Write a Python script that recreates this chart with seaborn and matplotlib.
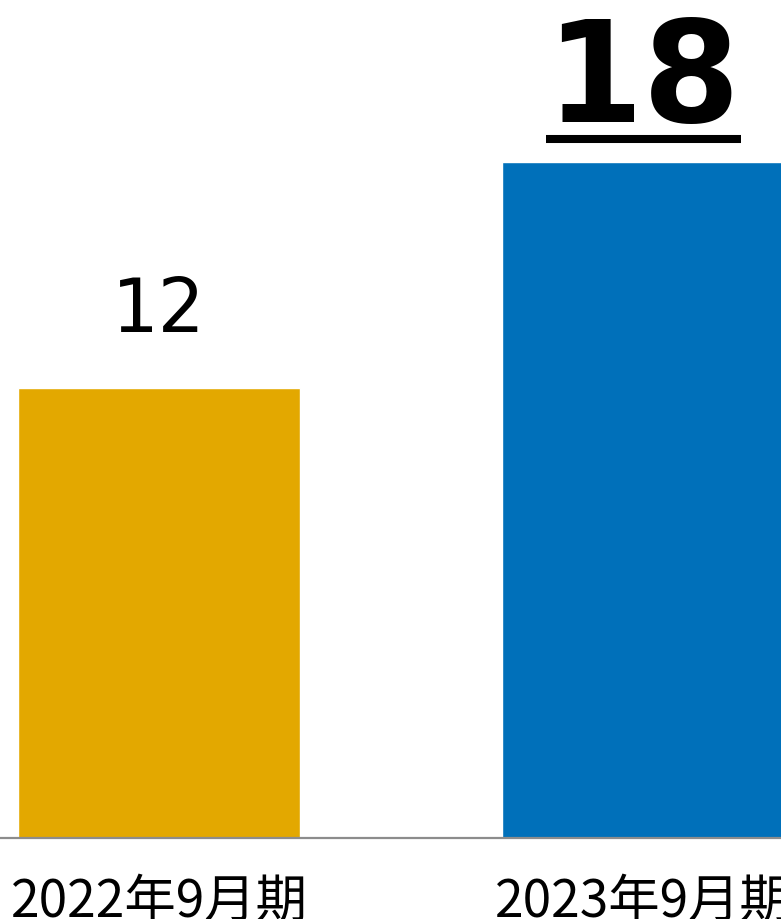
import matplotlib
matplotlib.use("Agg")
import matplotlib.pyplot as plt
import seaborn as sns
import pandas as pd

periods = ["2022年9月期", "2023年9月期"]
values = [12, 18]
colors = ["#E3A800", "#0070BA"]

sns.set_theme(style="white")
plt.rcParams["font.family"] = ["DejaVu Sans", "Noto Sans CJK JP"]

df = pd.DataFrame({"period": periods, "value": values})

fig = plt.figure(figsize=(7.81, 9.19), dpi=100)
ax = fig.add_axes([0, 81 / 919, 1, 838 / 919])

sns.barplot(data=df, x="period", y="value", hue="period", palette=colors,
            width=0.583, legend=False, ax=ax, saturation=1)

ax.set_xlim(-0.3285, 1.285)
ax.set_ylim(0, 22.33)
ax.set_xlabel("")
ax.set_ylabel("")
ax.set_yticks([])
for s in ["left", "right", "top"]:
    ax.spines[s].set_visible(False)
ax.spines["bottom"].set_color("#8c8c8c")
ax.spines["bottom"].set_linewidth(1.6)
ax.tick_params(axis="x", length=0, pad=27)
ax.set_xticks([0, 1])
ax.set_xticklabels(periods, fontsize=37, family=["Noto Sans CJK JP"], color="#000000")

# value labels: previous period plain, current period bold and underlined
ax.annotate(str(values[0]), (0, values[0]), xytext=(0, 40.3), textcoords="offset points",
            ha="center", va="baseline", fontsize=53, color="#000000")
ax.annotate(str(values[1]), (1, values[1]), xytext=(0, 28.8), textcoords="offset points",
            ha="center", va="baseline", fontsize=101, fontweight="bold", color="#000000")

# underline beneath the current-period figure
px_per_unit = 838 / 22.33
half = 97.5 / 484
y_ul = values[1] + 23 / px_per_unit
ax.plot([1 - half, 1 + half], [y_ul, y_ul], color="#000000", linewidth=5.8,
        solid_capstyle="butt", clip_on=False)

fig.savefig("out.png", dpi=100)
